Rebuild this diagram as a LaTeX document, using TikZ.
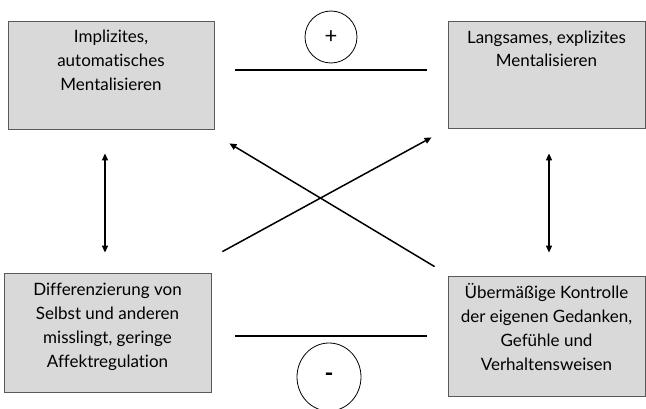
\documentclass[tikz,border=0pt]{standalone}
\usepackage{fontspec}
\setmainfont{Lato}[Ligatures=NoCommon]
\usetikzlibrary{arrows.meta,shapes.geometric,calc}
\definecolor{kastengrau}{HTML}{D9D9D9}
\definecolor{randgrau}{HTML}{595959}
\newcommand{\kastentext}[3]{\parbox[c][#2][t]{#1}{\centering\rule{0pt}{22pt}#3}}

\begin{document}
\begin{tikzpicture}[x=1pt,y=1pt,>={Triangle[length=7pt,width=6pt]},
  kasten/.style={draw=randgrau,fill=kastengrau,line width=0.8pt,inner sep=0pt,font=\fontsize{17}{24}\selectfont},
  pfeil/.style={line width=1.5pt},
  trenn/.style={line width=1.2pt},
  zeichen/.style={draw,line width=0.8pt,inner sep=0pt}]
\useasboundingbox (0,0) rectangle (646,408);
% die vier Kaesten
\node[kasten] (implizit) at (111,333) {\kastentext{206pt}{108pt}{Implizites,\\ automatisches\\ Mentalisieren}};
\node[kasten] (langsam) at (546.5,333.5) {\kastentext{197pt}{107pt}{Langsames, explizites\\ Mentalisieren}};
\node[kasten] (differenz) at (107.5,75.5) {\kastentext{207pt}{119pt}{Differenzierung von\\ Selbst und anderen\\ misslingt, geringe\\ Affektregulation}};
\node[kasten] (kontrolle) at (546.5,72) {\kastentext{197pt}{120pt}{Übermäßige Kontrolle\\ der eigenen Gedanken,\\ Gefühle und\\ Verhaltensweisen}};
% Pfeile
\draw[pfeil,<->] ($(implizit.south)+(-6,-24)$) -- ($(differenz.north)+(-2.5,20)$);
\draw[pfeil,<->] ($(langsam.south)+(2.5,-25)$) -- ($(kontrolle.north)+(2.5,23)$);
\draw[pfeil,->] ($(differenz.north east)+(11,21)$) -- ($(langsam.south west)+(-16,-9)$);
\draw[pfeil,->] ($(kontrolle.north west)+(-13,9)$) -- ($(implizit.south east)+(15,-14)$);
% Trennlinien mit Vorzeichen
\draw[trenn] ($(implizit.east)+(21,5)$) -- ($(langsam.west)+(-21,4.5)$);
\draw[trenn] ($(differenz.east)+(24,-3.5)$) -- ($(kontrolle.west)+(-21,0)$);
\node[zeichen,circle,minimum size=52pt,font=\fontsize{22}{22}\selectfont] (plus) at (331,371) {+};
\node[zeichen,ellipse,minimum width=64pt,minimum height=68pt,font=\fontsize{24}{24}\selectfont\bfseries] (minus) at (329,31) {-};
\end{tikzpicture}
\end{document}
